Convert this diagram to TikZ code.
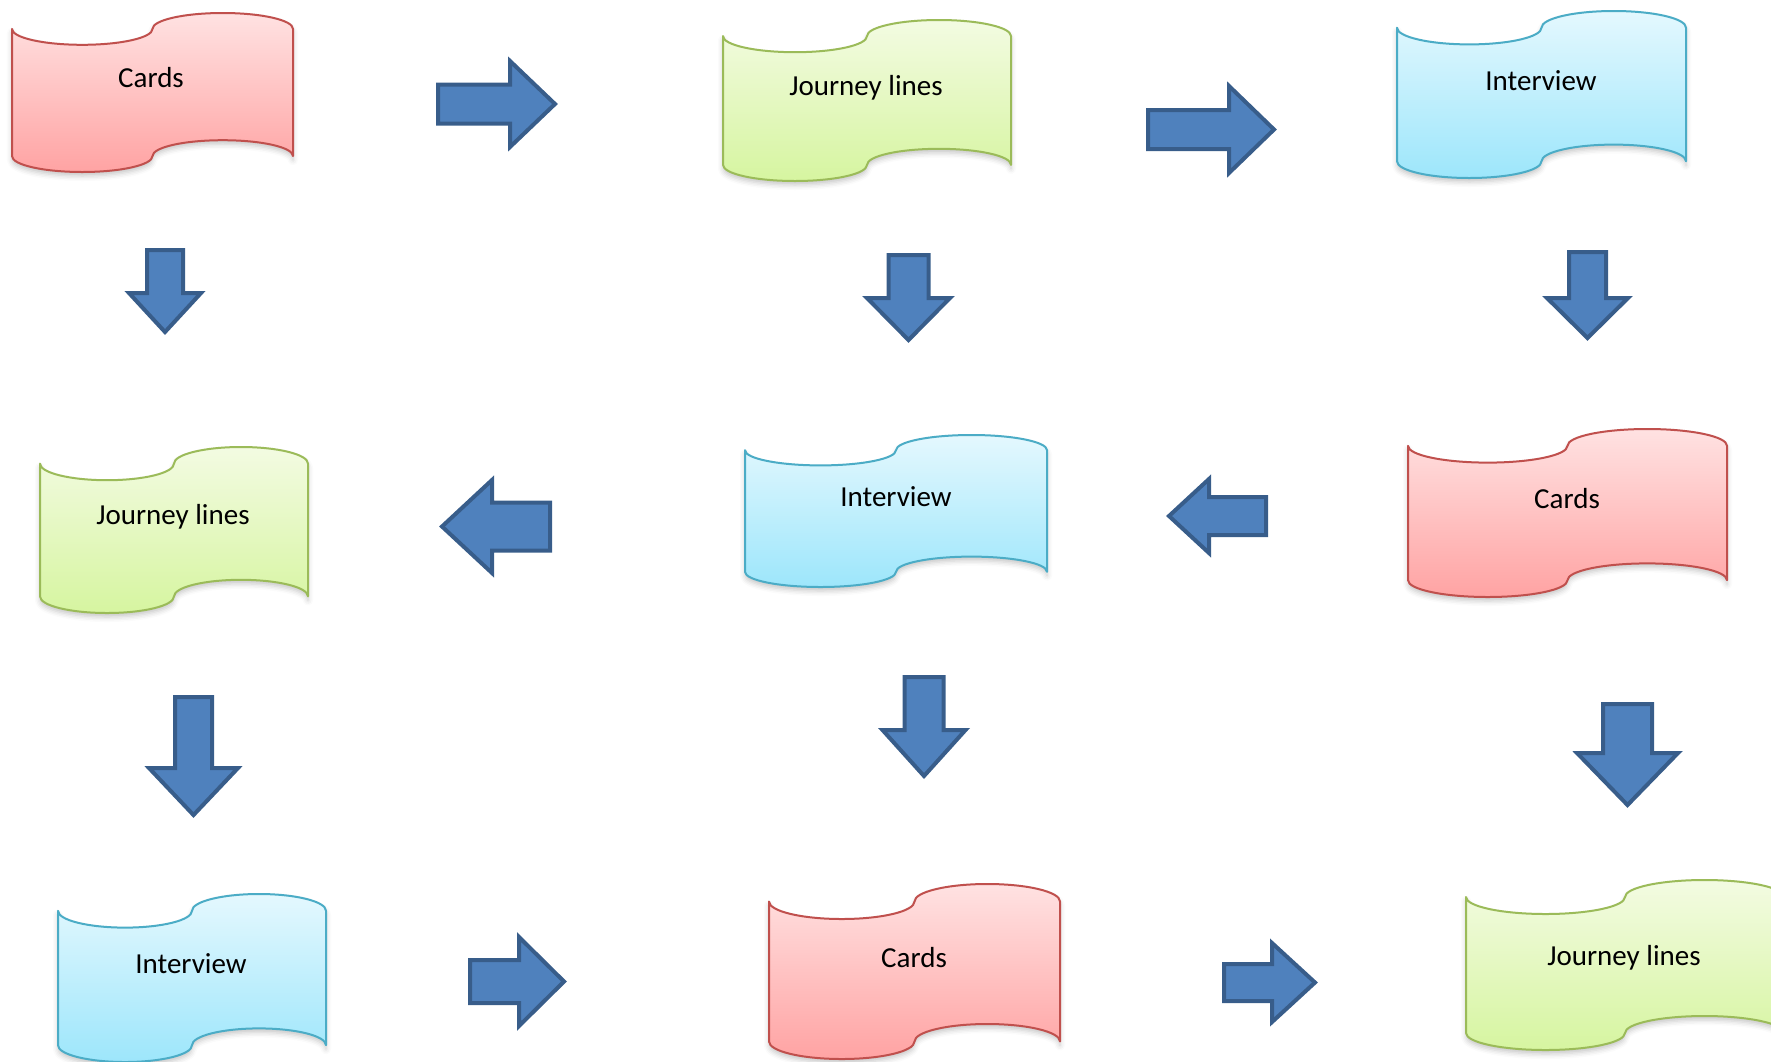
\documentclass[tikz,border=0pt]{standalone}
\usepackage{fontspec}
\setmainfont{Carlito}
\usetikzlibrary{shadows.blur}

\definecolor{redline}{HTML}{C0504D}
\definecolor{redtop}{HTML}{FFE2E2}
\definecolor{redbot}{HTML}{FFA3A3}
\definecolor{greenline}{HTML}{9BBB59}
\definecolor{greentop}{HTML}{F3FBE2}
\definecolor{greenbot}{HTML}{D6F5A0}
\definecolor{blueline}{HTML}{4BACC6}
\definecolor{bluetop}{HTML}{E4F8FE}
\definecolor{bluebot}{HTML}{9DE6FB}
\definecolor{arrowfill}{HTML}{4F81BD}
\definecolor{arrowline}{HTML}{385D8A}

\tikzset{
  tapebase/.style={line width=2pt, line join=round,
    blur shadow={shadow xshift=0pt, shadow yshift=-4pt, shadow blur radius=5pt, shadow opacity=22}},
  redtape/.style={tapebase, draw=redline, top color=redtop, bottom color=redbot},
  greentape/.style={tapebase, draw=greenline, top color=greentop, bottom color=greenbot},
  bluetape/.style={tapebase, draw=blueline, top color=bluetop, bottom color=bluebot},
  arrowbox/.style={fill=arrowfill, draw=arrowline, line width=4pt, line join=miter},
  tapetext/.style={font=\fontsize{29}{35}\selectfont, inner sep=0pt, text=black}
}

% punched-tape outline: #1 style, #2 left, #3 top, #4 width, #5 height
\newcommand\tapeshape[5]{%
  \path[#1] (#2,{#3+#5/10})
    arc[start angle=180, end angle=0, x radius={#4/4}, y radius={#5/10}]
    arc[start angle=180, end angle=360, x radius={#4/4}, y radius={#5/10}]
    -- ({#2+#4},{#3+9*#5/10})
    arc[start angle=0, end angle=-180, x radius={#4/4}, y radius={#5/10}]
    arc[start angle=0, end angle=180, x radius={#4/4}, y radius={#5/10}]
    -- cycle;}

% block arrow: #1 cx, #2 cy, #3 rotation, #4 length, #5 shaft width, #6 head width, #7 head length
\newcommand\blockarrow[7]{%
  \draw[arrowbox, shift={(#1,#2)}, rotate=#3]
    ({-(#4-4)/2},{-(#5-4)/2}) -- ({(#4-4)/2-#7},{-(#5-4)/2})
    -- ({(#4-4)/2-#7},{-(#6-4)/2}) -- ({(#4-4)/2},0)
    -- ({(#4-4)/2-#7},{(#6-4)/2}) -- ({(#4-4)/2-#7},{(#5-4)/2})
    -- ({-(#4-4)/2},{(#5-4)/2}) -- cycle;}

\begin{document}
\begin{tikzpicture}[x=1pt, y=-1pt]
  \useasboundingbox (0,0) rectangle (1771,1061);

  % first row
  \tapeshape{redtape}{12}{13}{281}{159}
  \node[tapetext] (cardsA) at (151,78) {Cards};
  \tapeshape{greentape}{723}{20}{288}{161}
  \node[tapetext] (journeyA) at (866,88) {Journey lines};
  \tapeshape{bluetape}{1397}{11}{289}{167}
  \node[tapetext] (interviewA) at (1541,81) {Interview};

  \blockarrow{496.5}{104}{0}{121}{43}{90}{45}
  \blockarrow{1211}{129.5}{0}{130}{43}{91}{45}

  % downward arrows below the first row
  \blockarrow{165}{291}{-90}{86}{40}{76}{39}
  \blockarrow{908.5}{297.5}{-90}{89}{44}{87}{42}
  \blockarrow{1587.5}{295}{-90}{90}{41}{85}{40}

  % second row
  \tapeshape{greentape}{40}{447}{268}{166}
  \node[tapetext] (journeyB) at (173,517) {Journey lines};
  \tapeshape{bluetape}{745}{435}{302}{152}
  \node[tapetext] (interviewB) at (896,497) {Interview};
  \tapeshape{redtape}{1408}{429}{319}{168}
  \node[tapetext] (cardsB) at (1567,499) {Cards};

  \blockarrow{496}{526.5}{180}{112}{52}{97}{50}
  \blockarrow{1217.5}{516}{180}{101}{42}{78}{40}

  % downward arrows below the second row
  \blockarrow{193.5}{756}{-90}{122}{41}{93}{47}
  \blockarrow{924}{726.5}{-90}{103}{43}{87}{46}
  \blockarrow{1627.5}{754.5}{-90}{105}{53}{105}{52}

  % third row
  \tapeshape{bluetape}{58}{894}{268}{168}
  \node[tapetext] (interviewC) at (191,964) {Interview};
  \tapeshape{redtape}{769}{884}{291}{175}
  \node[tapetext] (cardsC) at (914,958) {Cards};
  \tapeshape{greentape}{1466}{880}{318}{170}
  \node[tapetext] (journeyC) at (1624,958) {Journey lines};

  \blockarrow{517}{981.5}{0}{98}{47}{93}{45}
  \blockarrow{1269.5}{982.5}{0}{95}{41}{83}{43}
\end{tikzpicture}
\end{document}
